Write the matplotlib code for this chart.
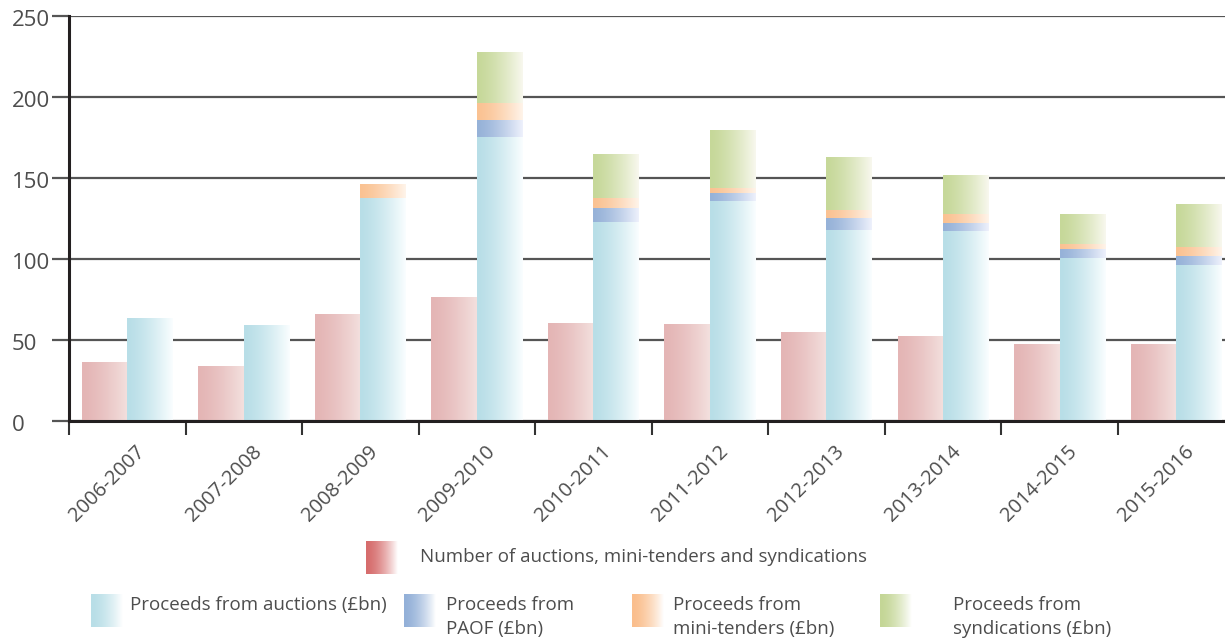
# Gilt issuance: number of operations and proceeds by year

import numpy as np
import matplotlib
matplotlib.use('Agg')
import matplotlib.pyplot as plt
from matplotlib.transforms import ScaledTranslation

plt.rcParams['font.family'] = ['Open Sans', 'DejaVu Sans']

years = ['2006-2007', '2007-2008', '2008-2009', '2009-2010', '2010-2011',
         '2011-2012', '2012-2013', '2013-2014', '2014-2015', '2015-2016']
n_operations = [36, 33.5, 66, 76, 60, 59.5, 54.5, 52, 47, 47]
auctions = [63, 59, 137.5, 175.5, 123, 135.5, 118, 117, 100.5, 96.5]
paof = [0, 0, 0, 10.5, 8.5, 5.5, 7.5, 5.5, 5.5, 5.5]
mini_tenders = [0, 0, 8.5, 10, 6, 3, 4.5, 5.5, 3, 5.5]
syndications = [0, 0, 0, 31, 27, 35.5, 32.5, 23.5, 18.5, 26.5]

legend_labels = ['Number of auctions, mini-tenders and syndications',
                 'Proceeds from auctions (£bn)',
                 'Proceeds from\nPAOF (£bn)',
                 'Proceeds from\nmini-tenders (£bn)',
                 'Proceeds from\nsyndications (£bn)']

TXT = '#4d4d4d'
GRID = '#555555'


def grad(c0, c1, n=64, p=1.4):
    t = np.linspace(0, 1, n) ** p
    c0 = np.array(c0) / 255.0
    c1 = np.array(c1) / 255.0
    return (c0[None, :] * (1 - t[:, None]) + c1[None, :] * t[:, None])[None, :, :]


bar_grads = {
    'red': grad((228, 181, 181), (243, 224, 222)),
    'blue': grad((184, 222, 231), (250, 254, 255)),
    'paof': grad((150, 178, 216), (238, 241, 252)),
    'orange': grad((250, 194, 146), (255, 244, 234)),
    'green': grad((198, 216, 153), (248, 248, 238)),
}
leg_grads = [grad((214, 108, 108), (255, 255, 255), p=1.6),
             grad((184, 222, 231), (255, 255, 255), p=1.6),
             grad((147, 176, 216), (255, 255, 255), p=1.6),
             grad((250, 190, 140), (255, 255, 255), p=1.6),
             grad((196, 214, 150), (255, 255, 255), p=1.6)]

fig = plt.figure(figsize=(12.25, 6.39), dpi=100)
ax = fig.add_axes([69 / 1225, 218 / 639, 1 - 69 / 1225, 405 / 639])

x = np.arange(len(years))
w = 0.39


def paint(bars, g):
    for r in bars:
        bx, by = r.get_x(), r.get_y()
        bw, bh = r.get_width(), r.get_height()
        r.set_visible(False)
        if bh <= 0:
            continue
        ax.imshow(g, extent=[bx, bx + bw, by, by + bh], aspect='auto',
                  interpolation='bilinear', zorder=2)


paint(ax.bar(x - w, n_operations, w, align='edge'), bar_grads['red'])
bottom = np.zeros(len(years))
for vals, key in [(auctions, 'blue'), (paof, 'paof'),
                  (mini_tenders, 'orange'), (syndications, 'green')]:
    paint(ax.bar(x, vals, w, bottom=bottom, align='edge'), bar_grads[key])
    bottom = bottom + np.array(vals)

ax.set_xlim(-0.5, 9.42)
ax.set_ylim(0, 250)
ax.set_axisbelow(True)

ax.set_yticks(range(0, 251, 50))
ax.yaxis.grid(True, color=GRID, lw=1.6)
ax.tick_params(axis='y', length=12.5, width=1.6, color=GRID, pad=28.5,
               labelsize=16, labelcolor=TXT)
ydown = ScaledTranslation(0, -0.02, fig.dpi_scale_trans)
for lbl in ax.get_yticklabels():
    lbl.set_horizontalalignment('left')
    lbl.set_transform(lbl.get_transform() + ydown)

ax.set_xticks(x)
ax.set_xticklabels(years, rotation=45, ha='right', va='center',
                   rotation_mode='anchor')
ax.set_xticks(np.arange(-0.5, 9.5, 1), minor=True)
ax.tick_params(axis='x', which='major', length=0, pad=20, labelsize=14.5,
               labelcolor=TXT)
ax.tick_params(axis='x', which='minor', length=10, width=1.5, color='#333333')
off = ScaledTranslation(0.15, 0, fig.dpi_scale_trans)
for lbl in ax.get_xticklabels():
    lbl.set_transform(lbl.get_transform() + off)

for s in ['top', 'right']:
    ax.spines[s].set_visible(False)
for s in ['left', 'bottom']:
    ax.spines[s].set_color('#231f20')
    ax.spines[s].set_linewidth(2.2)

# legend drawn in pixel coordinates on an overlay
lax = fig.add_axes([0, 0, 1, 1])
lax.axis('off')
lax.patch.set_visible(False)

swatches = [(366, 541), (91, 594), (404, 594), (632, 594), (880, 594)]
text_x = [420, 130, 446, 673, 953]
text_dy = [7, 2, 2, 2, 2]
for (sx, sy), tx, dy, g, lab in zip(swatches, text_x, text_dy, leg_grads,
                                    legend_labels):
    lax.imshow(g, extent=[sx, sx + 32, sy + 33, sy], aspect='auto',
               interpolation='bilinear')
    lax.text(tx, sy + dy, lab, fontsize=13.5, color=TXT, ha='left', va='top',
             linespacing=1.45)
lax.set_xlim(0, 1225)
lax.set_ylim(639, 0)

fig.savefig('out.png', dpi=100)
